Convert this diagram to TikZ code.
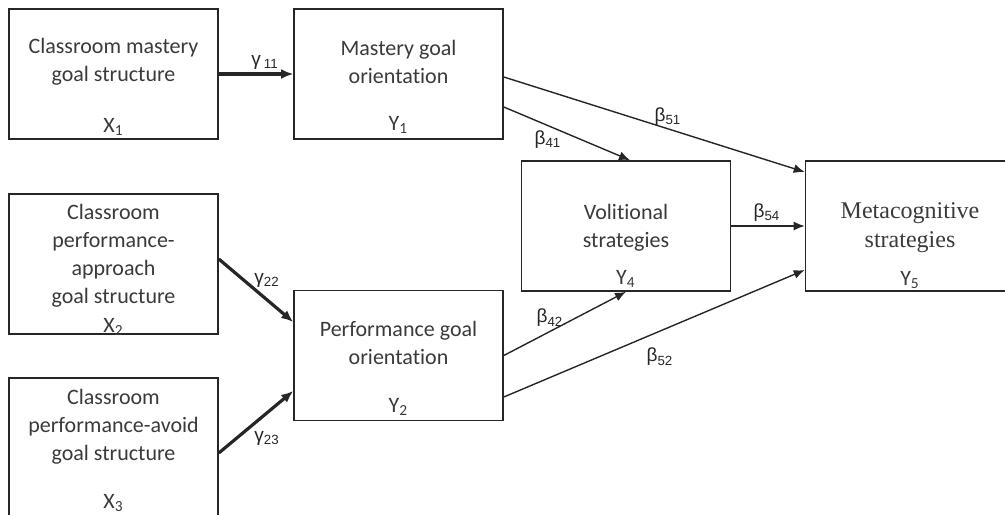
\documentclass[tikz,border=0pt]{standalone}
\usepackage{fontspec}
\setmainfont{Carlito}[Ligatures=NoCommon]
\newfontfamily\coeffont{Liberation Sans}
\newfontfamily\metafont{Liberation Serif}
\usepackage{tikz}
\usetikzlibrary{arrows.meta}
\definecolor{pathink}{HTML}{262626}
\definecolor{boxtext}{HTML}{3A3A3A}

\begin{document}
\begin{tikzpicture}[x=0.5pt,y=-0.5pt,
  box/.style={draw=pathink,line width=0.8pt,minimum width=104.5pt,minimum height=65pt,inner sep=0pt},
  tallbox/.style={box,minimum height=70pt},
  boxtxt/.style={align=center,text=boxtext,font=\fontsize{11}{14}\selectfont,inner sep=0pt},
  varname/.style={text=boxtext,font=\fontsize{11}{13}\selectfont,inner sep=0pt},
  coef/.style={text=pathink,font=\coeffont\fontsize{9.5}{11}\selectfont,inner sep=0pt},
  gpath/.style={pathink,line width=1.6pt,-{Latex[length=6pt,width=5pt]}},
  bpath/.style={pathink,line width=0.7pt,-{Latex[length=5.5pt,width=4.5pt]}}]
  \useasboundingbox (0,0) rectangle (1005,514);

  % boxes
  \node[box] (x1) at (113.5,74) {};
  \node[box] (y1) at (398.5,74) {};
  \node[tallbox] (x2) at (113.5,264) {};
  \node[tallbox] (x3) at (113.5,448) {};
  \node[box] (y2) at (398.5,355.5) {};
  \node[box] (y4) at (626,226) {};
  \node[box] (y5) at (910,226) {};

  % box texts
  \node[boxtxt] (x1t) at (113.5,62) {Classroom mastery\\goal structure};
  \node[boxtxt] (y1t) at (398.5,61.5) {Mastery goal\\orientation};
  \node[boxtxt] (x2t) at (113.5,256) {Classroom\\performance-\\approach\\goal structure};
  \node[boxtxt] (x3t) at (113.5,427) {Classroom\\performance-avoid\\goal structure};
  \node[boxtxt] (y2t) at (398.5,342.5) {Performance goal\\orientation};
  \node[boxtxt] (y4t) at (626,227.5) {Volitional\\strategies};
  \node[boxtxt,font=\metafont\fontsize{12}{14.5}\selectfont] (y5t) at (910,227.5) {Metacognitive\\strategies};

  % variable names
  \node[varname] (x1n) at (113.5,127) {X\textsubscript{1}};
  \node[varname] (y1n) at (398.5,125) {Y\textsubscript{1}};
  \node[varname] (x2n) at (113.5,327) {X\textsubscript{2}};
  \node[varname] (x3n) at (113.5,503) {X\textsubscript{3}};
  \node[varname] (y2n) at (398.5,407) {Y\textsubscript{2}};
  \node[varname] (y4n) at (626,279) {Y\textsubscript{4}};
  \node[varname] (y5n) at (910,280) {Y\textsubscript{5}};

  % paths
  \draw[gpath] (x1.east) -- (y1.west);
  \draw[gpath] ([yshift=2.5pt]x2.east) -- ([yshift=16.75pt]y2.west);
  \draw[gpath] ([yshift=-2.5pt]x3.east) -- ([yshift=-17.75pt]y2.west);
  \draw[bpath] ([yshift=-16.5pt]y1.east) -- ([xshift=2pt]y4.north);
  \draw[bpath] ([yshift=-1.5pt]y1.east) -- ([yshift=27pt]y5.west);
  \draw[bpath] (y4.east) -- (y5.west);
  \draw[bpath] (y2.east) -- (y4.south);
  \draw[bpath] ([yshift=-20.75pt]y2.east) -- ([yshift=-22pt]y5.west);

  % coefficients
  \node[coef] (g11) at (265,62) {γ\,\textsubscript{11}};
  \node[coef] (g22) at (267,280) {γ\textsubscript{22}};
  \node[coef] (g23) at (267,438) {γ\textsubscript{23}};
  \node[coef] (b41) at (548,140) {β\textsubscript{41}};
  \node[coef] (b51) at (668,117) {β\textsubscript{51}};
  \node[coef] (b54) at (767,213) {β\textsubscript{54}};
  \node[coef] (b42) at (550,318) {β\textsubscript{42}};
  \node[coef] (b52) at (660,357) {β\textsubscript{52}};
\end{tikzpicture}
\end{document}
